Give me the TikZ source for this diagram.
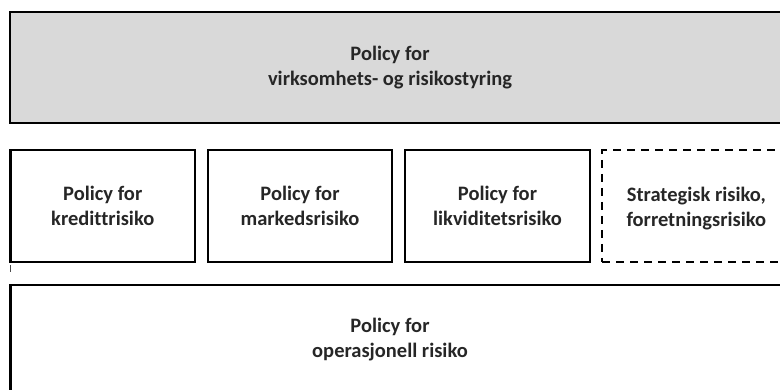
\documentclass[tikz,border=0pt]{standalone}
\usepackage{fontspec}
\setmainfont{Carlito}[Ligatures=CommonOff]
\begin{document}
\begin{tikzpicture}[x=1pt,y=-1pt,
  lbl/.style={font=\bfseries\fontsize{20.5}{25}\selectfont, align=center, text=black!85},
  pbox/.style={draw=black, line width=2.2pt, rectangle, inner sep=0pt},
  dbox/.style={pbox, dash pattern=on 8pt off 6pt}]
\useasboundingbox (0,0) rectangle (780,389);
\clip (0,0) rectangle (780,389);
% top
\node[pbox, fill=black!15, line width=2.6pt, minimum width=780pt, minimum height=111pt] (top) at (400,67.5) {};
\node[lbl] (toptext) at (390,67.5) {Policy for\\virksomhets- og risikostyring};
% middle row
\node[pbox, minimum width=184.5pt, minimum height=111.5pt] (b1) at (102.75,206) {};
\node[lbl] at (b1.center) {Policy for\\kredittrisiko};
\node[pbox, minimum width=184.5pt, minimum height=111.5pt] (b2) at (300,206) {};
\node[lbl] at (b2.center) {Policy for\\markedsrisiko};
\node[pbox, minimum width=184.5pt, minimum height=111.5pt] (b3) at (497.5,206) {};
\node[lbl] at (b3.center) {Policy for\\likviditetsrisiko};
\node[dbox, minimum width=184.5pt, minimum height=111.5pt] (b4) at (694.5,206) {};
\node[lbl, anchor=west] at (623,209) {Strategisk risiko,\\forretningsrisiko};
% bottom
\node[pbox, minimum width=800pt, minimum height=140pt] (bot) at (410.5,355) {};
\node[lbl] (bottext) at (390,340) {Policy for\\operasjonell risiko};
% tick
\coordinate (t1) at (10.5,265);
\coordinate (t2) at (10.5,272);
\draw[line width=1.2pt, black!70] (t1) -- (t2);
\end{tikzpicture}
\end{document}
